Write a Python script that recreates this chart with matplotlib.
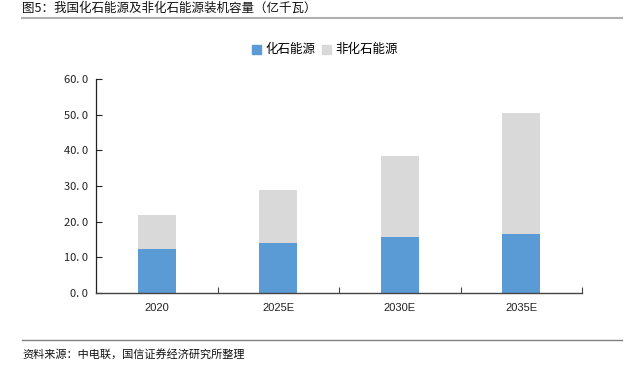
import matplotlib.pyplot as plt
from matplotlib.lines import Line2D
from matplotlib.patches import Patch
from matplotlib.ticker import FixedLocator, FuncFormatter

plt.rcParams["font.family"] = ["Noto Sans CJK SC", "DejaVu Sans"]

# data (亿千瓦)
years = ["2020", "2025E", "2030E", "2035E"]
fossil = [12.3, 13.9, 15.6, 16.6]
non_fossil = [9.7, 15.1, 22.9, 33.9]

BLUE = "#5B9BD5"
GRAY = "#D9D9D9"

fig = plt.figure(figsize=(6.33, 3.71), dpi=100)
ax = fig.add_axes([96 / 633, 1 - 293 / 371, 486 / 633, 214 / 371])

x = range(len(years))
ax.bar(x, fossil, width=0.316, color=BLUE, label="化石能源")
ax.bar(x, non_fossil, width=0.316, bottom=fossil, color=GRAY, label="非化石能源")

ax.set_xlim(-0.5, len(years) - 0.5)
ax.set_ylim(0, 60)
ax.set_yticks(range(0, 61, 10))
ax.yaxis.set_major_formatter(FuncFormatter(lambda v, p: f"{v:.1f}".replace(".", ". ")))
ax.tick_params(axis="y", direction="in", length=4, width=0.8, labelsize=8,
               colors="#222222", pad=6)

ax.set_xticks(list(x))
ax.set_xticklabels(years, fontsize=8, family=["Liberation Sans", "DejaVu Sans"])
ax.tick_params(axis="x", length=0, pad=7, colors="#222222")
ax.xaxis.set_minor_locator(FixedLocator([0.5, 1.5, 2.5, 3.5]))
ax.tick_params(axis="x", which="minor", direction="in", length=4, width=0.8,
               color="#444444")

for s in ["top", "right"]:
    ax.spines[s].set_visible(False)
ax.spines["left"].set_color("#222222")
ax.spines["bottom"].set_color("#444444")
ax.spines["left"].set_linewidth(0.9)
ax.spines["bottom"].set_linewidth(1.0)

handles = [Patch(color=BLUE), Patch(color=GRAY)]
fig.legend(handles, ["化石能源", "非化石能源"], loc="center",
           bbox_to_anchor=(325 / 633, 1 - 50 / 371), ncol=2, frameon=False,
           fontsize=9, handlelength=0.7, handleheight=0.7, handletextpad=0.4,
           columnspacing=0.5)

# title, rules, source
fig.text(22 / 633, 1 - 8 / 371, "图5：我国化石能源及非化石能源装机容量（亿千瓦）",
         fontsize=9, va="center", ha="left", color="#111111")
fig.add_artist(Line2D([22 / 633, 622 / 633], [1 - 17.7 / 371] * 2,
                      color="#B0B0B0", linewidth=1.5))
fig.add_artist(Line2D([22 / 633, 622 / 633], [1 - 340.3 / 371] * 2,
                      color="#808080", linewidth=1.0))
fig.text(22 / 633, 1 - 354 / 371, "资料来源：中电联，国信证券经济研究所整理",
         fontsize=8, va="center", ha="left", color="#111111")

fig.savefig("out.png", dpi=100)
